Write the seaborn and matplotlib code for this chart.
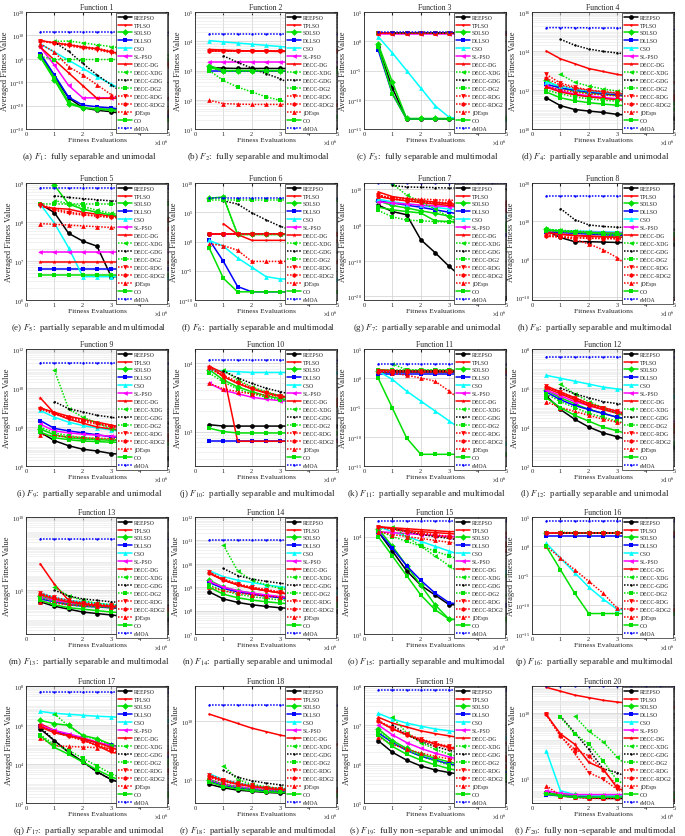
import matplotlib
matplotlib.use("Agg")
import matplotlib.pyplot as plt
import seaborn as sns
import pandas as pd

sns.set_style("white")
plt.rcParams["font.family"] = ["Liberation Serif", "DejaVu Serif"]
plt.rcParams["mathtext.fontset"] = "stix"

fes = [0.5, 1.0, 1.5, 2.0, 2.5, 3.0, 3.5, 4.0, 4.5, 5.0]
algs = ["REEPSO", "TPLSO", "SDLSO", "DLLSO", "CSO", "SL-PSO", "DECC-DG", "DECC-XDG",
        "DECC-GDG", "DECC-DG2", "DECC-RDG", "DECC-RDG2", "jDEsps", "CO", "eMOA"]
colors = ["#000000", "#ff0000", "#00e000", "#0000ff", "#00ffff", "#ff00ff", "#ff0000", "#00e000",
          "#000000", "#00e000", "#ff0000", "#ff0000", "#ff0000", "#00e000", "#0000ff"]
markers = ["o", ".", "D", "s", "^", "<", "*", "<", ".", "s", "v", "h", "^", "s", "."]
solid = [True, True, True, True, True, True, True, False, False, False, False, False, False, True, False]

captions = [
    "(a) $F_1$:  fully separable and unimodal",
    "(b) $F_2$:  fully separable and multimodal",
    "(c) $F_3$:  fully separable and multimodal",
    "(d) $F_4$:  partially separable and unimodal",
    "(e) $F_5$:  partially separable and multimodal",
    "(f) $F_6$:  partially separable and multimodal",
    "(g) $F_7$:  partially separable and unimodal",
    "(h) $F_8$:  partially separable and multimodal",
    "(i) $F_9$:  partially separable and unimodal",
    "(j) $F_{10}$:  partially separable and multimodal",
    "(k) $F_{11}$:  partially separable and multimodal",
    "(l) $F_{12}$:  partially separable and unimodal",
    "(m) $F_{13}$:  partially separable and multimodal",
    "(n) $F_{14}$:  partially separable and unimodal",
    "(o) $F_{15}$:  partially separable and multimodal",
    "(p) $F_{16}$:  partially separable and multimodal",
    "(q) $F_{17}$:  partially separable and unimodal",
    "(r) $F_{18}$:  partially separable and multimodal",
    "(s) $F_{19}$:  fully non -separable and unimodal",
    "(t) $F_{20}$:  fully non -separable and multimodal",
]

# log10 axis limits and tick step per function
ylims = [(-30, 20), (1, 5), (-15, 5), (10, 16), (6, 9), (-10, 10), (-21, 11.8), (-10.7, 20),
         (6, 12), (2.5, 4.2), (-15, 5), (2, 8), (2, 10), (7, 12), (3, 4.2), (-15, 5),
         (2, 8), (3, 13), (5, 8), (3.05, 12.1)]
ysteps = [10, 1, 5, 2, 1, 5, 10, 10, 2, 1, 5, 2, 5, 1, 1, 5, 2, 5, 1, 5]

N = None
# log10 of the averaged fitness value, one row per algorithm (order of algs)
f1 = [
    [2.2, -7.6, -16.7, -20.9, -22.0, -22.6, -23.7, -24.2, -24.6, -25.0],
    [7.8, 6.8, 6.0, 5.0, 4.3, 2.9, 1.8, 0.8, -0.5, -2.0],
    [0.8, -9.0, -19.2, -21.0, -21.3, -21.6, -21.9, -22.2, -22.5, -22.8],
    [2.2, -6.9, -16.4, -19.8, -20.5, -21.0, -21.8, -22.5, -23.0, -23.4],
    [6.4, 2.9, -0.6, -4.1, -7.6, -10.8, -13.9, -16.0, -16.5, -16.7],
    [5.0, -2.7, -11.4, -16.7, -16.7, -16.7, -16.7, -16.7, -16.7, -16.7],
    [5.0, -0.5, -6.0, -11.5, -16.9, -16.9, -16.9, -16.9, -16.9, -16.9],
    [N, 7.4, 7.6, 6.8, 6.0, 5.2, 4.3, 3.4, 2.5, 1.5],
    [N, 7.1, 3.2, -2.0, -6.9, -11.1, -15.3, -19.5, -24.0, -26.0],
    [1.0, -0.3, -0.3, -0.3, -0.3, -0.3, -0.3, -0.3, -0.3, -0.3],
    [7.6, 6.6, 5.5, 4.6, 3.8, 2.6, 1.2, -0.5, -2.0, -3.0],
    [7.7, 6.9, 6.2, 5.2, 4.5, 3.3, 2.0, 0.5, -1.0, -2.0],
    [6.4, 2.9, -3.4, -6.9, -11.1, -15.3, -18.0, -20.0, -21.5, -22.5],
    [1.0, -8.0, -18.5, -21.0, -21.5, -22.0, -23.0, -24.0, -25.5, -26.0],
    [11.6, 11.6, 11.6, 11.6, 11.6, 11.6, 11.6, 11.6, 11.6, 11.6],
]
f2 = [
    [3.11, 3.08, 3.07, 3.07, 3.07, 3.07, 3.07, 3.07, 3.07, 3.07],
    [3.72, 3.70, 3.68, 3.67, 3.66, 3.65, 3.65, 3.64, 3.64, 3.64],
    [3.17, 3.00, 2.98, 2.98, 2.98, 2.98, 2.98, 2.98, 2.98, 2.98],
    [3.00, 3.00, 3.00, 3.00, 3.00, 3.00, 3.00, 3.00, 3.00, 3.00],
    [4.02, 3.98, 3.94, 3.90, 3.86, 3.82, 3.78, 3.75, 3.72, 3.68],
    [3.28, 3.28, 3.28, 3.28, 3.28, 3.28, 3.28, 3.28, 3.28, 3.28],
    [3.66, 3.66, 3.66, 3.66, 3.66, 3.66, 3.66, 3.66, 3.66, 3.66],
    [3.10, 2.98, 2.98, 2.98, 2.98, 2.98, 2.98, 2.98, 2.98, 2.98],
    [N, 3.50, 3.28, 3.08, 2.89, 2.72, 2.47, 2.20, 1.70, 1.05],
    [3.00, 2.66, 2.43, 2.27, 2.10, 1.98, 1.81, 1.64, 1.53, 1.42],
    [3.68, 3.68, 3.68, 3.68, 3.68, 3.68, 3.68, 3.68, 3.68, 3.68],
    [3.67, 3.67, 3.67, 3.67, 3.67, 3.67, 3.67, 3.67, 3.67, 3.67],
    [1.98, 1.87, 1.85, 1.84, 1.84, 1.84, 1.84, 1.84, 1.84, 1.84],
    [3.10, 3.00, 3.00, 3.00, 3.00, 3.00, 3.00, 3.00, 3.00, 3.00],
    [4.24, 4.24, 4.24, 4.24, 4.24, 4.24, 4.24, 4.24, 4.24, 4.24],
]
f3 = [
    [-1.0, -8.0, -13.3, -13.3, -13.3, -13.3, -13.3, -13.3, -13.3, -13.3],
    [1.33, 1.33, 1.33, 1.33, 1.33, 1.33, 1.33, 1.33, 1.33, 1.33],
    [-0.5, -7.0, -13.2, -13.2, -13.2, -13.2, -13.2, -13.2, -13.2, -13.2],
    [-1.5, -9.0, -13.3, -13.3, -13.3, -13.3, -13.3, -13.3, -13.3, -13.3],
    [0.8, -2.0, -5.0, -8.0, -11.0, -13.0, -13.3, -13.3, -13.3, -13.3],
    [1.3, 1.3, 1.3, 1.3, 1.3, 1.3, 1.3, 1.3, 1.3, 1.3],
    [1.33, 1.33, 1.33, 1.33, 1.33, 1.33, 1.33, 1.33, 1.33, 1.33],
    [N, 1.33, 1.33, 1.33, 1.33, 1.33, 1.33, 1.33, 1.33, 1.33],
    [N, 1.33, 1.33, 1.33, 1.33, 1.33, 1.33, 1.33, 1.33, 1.33],
    [1.33, 1.33, 1.33, 1.33, 1.33, 1.33, 1.33, 1.33, 1.33, 1.33],
    [1.33, 1.33, 1.33, 1.33, 1.33, 1.33, 1.33, 1.33, 1.33, 1.33],
    [1.33, 1.33, 1.33, 1.33, 1.33, 1.33, 1.33, 1.33, 1.33, 1.33],
    [1.33, 1.33, 1.33, 1.33, 1.33, 1.33, 1.33, 1.33, 1.33, 1.33],
    [-1.0, -9.0, -13.3, -13.3, -13.3, -13.3, -13.3, -13.3, -13.3, -13.3],
    [1.5, 1.5, 1.5, 1.5, 1.5, 1.5, 1.5, 1.5, 1.5, 1.5],
]
f4 = [
    [11.6, 11.2, 11.0, 10.92, 10.85, 10.75, 10.7, 10.65, 10.6, 10.55],
    [14.0, 13.6, 13.35, 13.1, 12.95, 12.8, 12.7, 12.6, 12.5, 12.4],
    [12.5, 12.1, 11.95, 11.85, 11.78, 11.72, 11.66, 11.6, 11.55, 11.5],
    [12.3, 12.1, 12.0, 11.9, 11.82, 11.76, 11.7, 11.65, 11.6, 11.55],
    [12.4, 12.2, 12.05, 11.95, 11.88, 11.82, 11.78, 11.74, 11.7, 11.66],
    [12.2, 11.95, 11.8, 11.7, 11.62, 11.55, 11.5, 11.45, 11.4, 11.36],
    [12.15, 11.9, 11.75, 11.65, 11.57, 11.5, 11.45, 11.4, 11.37, 11.34],
    [N, 12.8, 12.4, 12.2, 12.05, 11.95, 11.88, 11.8, 11.75, 11.7],
    [N, 14.6, 14.3, 14.1, 13.98, 13.9, 13.82, 13.75, 13.7, 13.6],
    [12.0, 11.8, 11.65, 11.55, 11.48, 11.42, 11.38, 11.34, 11.3, 11.27],
    [12.8, 12.35, 12.15, 12.0, 11.92, 11.85, 11.8, 11.75, 11.72, 11.7],
    [12.6, 12.25, 12.1, 11.98, 11.9, 11.82, 11.77, 11.72, 11.68, 11.65],
    [12.2, 12.0, 11.9, 11.8, 11.75, 11.7, 11.66, 11.62, 11.6, 11.58],
    [11.9, 11.6, 11.45, 11.35, 11.28, 11.22, 11.17, 11.12, 11.08, 11.05],
    [15.2, 15.2, 15.19, 15.19, 15.18, 15.18, 15.17, 15.17, 15.16, 15.15],
]
f5 = [
    [8.46, 8.24, 7.71, 7.51, 7.38, 6.6, 6.6, 6.6, 6.6, 6.6],
    [8.4, 8.35, 8.33, 8.25, 8.2, 8.15, 8.12, 8.1, 8.08, 8.05],
    [N, 8.94, 8.46, 8.33, 8.25, 8.18, 8.13, 8.1, 8.08, 8.07],
    [6.79, 6.79, 6.79, 6.79, 6.79, 6.79, 6.79, 6.79, 6.79, 6.79],
    [8.46, 7.97, 7.34, 6.6, 6.6, 6.6, 6.6, 6.6, 6.6, 6.6],
    [7.22, 7.22, 7.22, 7.22, 7.22, 7.22, 7.22, 7.22, 7.22, 7.22],
    [6.97, 6.97, 6.97, 6.97, 6.97, 6.97, 6.97, 6.97, 6.97, 6.97],
    [N, 8.55, 8.47, 8.4, 8.3, 8.22, 8.17, 8.13, 8.1, 8.08],
    [N, 8.67, 8.63, 8.6, 8.57, 8.54, 8.53, 8.52, 8.52, 8.52],
    [8.46, 8.46, 8.46, 8.46, 8.46, 8.46, 8.46, 8.46, 8.46, 8.46],
    [8.42, 8.3, 8.22, 8.18, 8.15, 8.12, 8.1, 8.08, 8.07, 8.06],
    [8.46, 8.33, 8.26, 8.2, 8.16, 8.12, 8.1, 8.08, 8.07, 8.07],
    [7.96, 7.94, 7.92, 7.9, 7.88, 7.86, 7.85, 7.85, 7.85, 7.85],
    [6.65, 6.65, 6.65, 6.65, 6.65, 6.65, 6.65, 6.65, 6.65, 6.65],
    [8.86, 8.86, 8.86, 8.86, 8.86, 8.86, 8.86, 8.86, 8.86, 8.86],
]
f6 = [
    [1.2, 1.2, 1.2, 1.2, 1.2, 1.2, 1.2, 1.2, 1.2, 1.2],
    [N, 3.05, 1.2, 0.2, 0.2, 0.2, 0.2, 0.2, 0.2, 0.2],
    [7.4, 7.6, 1.2, 1.2, 1.2, 1.2, 1.2, 1.2, 1.2, 1.2],
    [0.3, -3.4, -7.7, -8.6, -8.6, -8.6, -8.6, -8.6, -8.6, -8.6],
    [0.2, -0.8, -2.8, -4.4, -6.0, -6.4, -6.4, -6.4, -6.4, -6.4],
    [1.3, 1.3, 1.3, 1.3, 1.3, 1.3, 1.3, 1.3, 1.3, 1.3],
    [1.25, 1.25, 1.25, 1.25, 1.25, 1.25, 1.25, 1.25, 1.25, 1.25],
    [N, 7.6, 1.2, 1.2, 1.2, 1.2, 1.2, 1.2, 1.2, 1.2],
    [N, 6.95, 6.4, 4.9, 3.7, 2.6, 1.8, 0.8, -0.5, -1.8],
    [7.1, 7.1, 7.1, 7.1, 7.1, 7.1, 7.1, 7.1, 7.1, 7.1],
    [1.25, 1.25, 1.25, 1.25, 1.25, 1.25, 1.25, 1.25, 1.25, 1.25],
    [1.2, 1.2, 1.2, 1.2, 1.2, 1.2, 1.2, 1.2, 1.2, 1.2],
    [-0.4, -0.7, -1.5, -3.4, -3.4, -3.4, -3.4, -3.4, -3.4, -3.4],
    [-1.1, -6.3, -8.6, -8.6, -8.6, -8.6, -8.6, -8.6, -8.6, -8.6],
    [7.36, 7.36, 7.36, 7.36, 7.36, 7.36, 7.36, 7.36, 7.36, 7.36],
]
f7 = [
    [5.6, 3.8, 2.9, -4.1, -7.7, -11.6, -15.0, -18.6, -20.3, -20.5],
    [9.3, 8.0, 7.4, 6.9, 6.4, 6.0, 5.6, 5.2, 4.8, 4.5],
    [6.8, 5.5, 4.8, 4.0, 3.3, 2.5, 1.8, 1.0, 0.0, -1.0],
    [6.8, 6.2, 5.6, 5.0, 4.3, 3.6, 2.8, 1.5, 0.0, -2.7],
    [7.3, 6.5, 6.0, 5.5, 5.0, 4.5, 4.0, 3.5, 3.0, 2.5],
    [6.5, 6.2, 5.9, 5.6, 5.4, 5.2, 5.0, 4.8, 4.6, 4.5],
    [8.0, 7.3, 6.8, 6.3, 5.9, 5.5, 5.1, 4.7, 4.3, 4.0],
    [N, 11.6, 8.4, 6.5, 4.5, 2.3, -0.5, -2.3, -4.5, -6.4],
    [N, 11.1, 10.7, 10.6, 10.5, 10.4, 10.35, 10.3, 10.25, 10.2],
    [4.1, 2.3, 1.4, 1.2, 1.0, 0.8, 0.5, 0.2, 0.0, -0.3],
    [8.5, 7.5, 7.0, 6.7, 6.5, 6.3, 6.1, 6.0, 5.9, 5.8],
    [8.4, 7.3, 6.8, 6.5, 6.2, 6.0, 5.9, 5.8, 5.7, 5.6],
    [8.2, 7.7, 7.5, 7.3, 7.1, 7.0, 6.9, 6.8, 6.8, 6.8],
    [5.0, 4.3, 3.8, 3.4, 1.2, 1.0, 0.8, 0.6, 0.5, 0.4],
    [11.8, 11.8, 11.8, 11.8, 11.8, 11.8, 11.8, 11.8, 11.8, 11.8],
]
f8 = [
    [7.5, 5.7, 4.6, 4.6, 4.5, 4.4, 4.3, 4.2, 4.1, 4.0],
    [7.0, 6.5, 6.2, 6.0, 5.9, 5.8, 5.7, 5.6, 5.5, 5.4],
    [7.8, 7.4, 7.2, 7.0, 6.8, 6.6, 6.4, 6.2, 6.0, 5.8],
    [7.2, 7.0, 6.8, 6.6, 6.4, 6.3, 6.2, 6.1, 6.0, 5.9],
    [7.6, 7.5, 7.4, 7.3, 7.2, 7.1, 7.0, 6.9, 6.8, 6.7],
    [7.4, 7.3, 7.2, 7.1, 7.0, 6.95, 6.9, 6.85, 6.8, 6.75],
    [7.0, 6.6, 6.3, 6.1, 5.9, 5.8, 5.7, 5.6, 5.5, 5.5],
    [7.9, 7.6, 7.4, 7.2, 6.5, 6.0, 5.5, 5.2, 5.0, 4.8],
    [N, 13.3, 10.4, 9.0, 8.6, 8.4, 8.3, 8.2, 8.1, 8.0],
    [7.5, 7.2, 7.0, 6.8, 6.6, 6.5, 6.4, 6.3, 6.2, 6.1],
    [6.2, 5.9, 5.7, 5.6, 5.5, 5.45, 5.4, 5.35, 5.3, 5.25],
    [6.0, 5.8, 5.6, 5.5, 5.4, 5.35, 5.3, 5.25, 5.2, 5.2],
    [6.5, 6.0, 5.2, 4.0, 2.5, 0.4, -2.6, -7.4, -10.0, -10.6],
    [7.6, 7.4, 7.2, 7.0, 6.9, 6.8, 6.7, 6.6, 6.5, 6.5],
    [16.7, 16.7, 16.7, 16.7, 16.7, 16.7, 16.7, 16.7, 16.7, 16.7],
]
f9 = [
    [7.73, 7.3, 7.04, 6.86, 6.77, 6.64, 6.58, 6.53, 6.47, 6.4],
    [8.97, 8.75, 8.55, 8.4, 8.25, 8.1, 7.95, 7.8, 7.7, 7.6],
    [7.9, 7.6, 7.45, 7.38, 7.35, 7.32, 7.3, 7.29, 7.28, 7.27],
    [8.33, 7.93, 7.8, 7.7, 7.6, 7.5, 7.45, 7.42, 7.4, 7.38],
    [8.85, 8.5, 8.25, 8.08, 7.95, 7.85, 7.75, 7.65, 7.55, 7.47],
    [8.15, 7.8, 7.7, 7.63, 7.58, 7.53, 7.5, 7.47, 7.45, 7.43],
    [9.5, 8.7, 8.4, 8.2, 8.0, 7.9, 7.8, 7.72, 7.65, 7.6],
    [N, 10.9, 8.94, 8.5, 8.2, 7.9, 7.75, 7.6, 7.55, 7.5],
    [N, 9.3, 8.94, 8.77, 8.6, 8.5, 8.4, 8.33, 8.27, 8.2],
    [8.0, 7.7, 7.55, 7.45, 7.4, 7.35, 7.3, 7.28, 7.26, 7.25],
    [8.93, 8.65, 8.45, 8.28, 8.15, 8.0, 7.88, 7.75, 7.65, 7.56],
    [9.0, 8.7, 8.5, 8.35, 8.2, 8.05, 7.92, 7.8, 7.7, 7.6],
    [7.6, 7.55, 7.5, 7.45, 7.42, 7.4, 7.38, 7.36, 7.35, 7.35],
    [7.75, 7.45, 7.35, 7.28, 7.25, 7.22, 7.2, 7.18, 7.16, 7.15],
    [11.3, 11.3, 11.3, 11.3, 11.3, 11.3, 11.3, 11.3, 11.3, 11.3],
]
f10 = [
    [3.1, 3.08, 3.08, 3.08, 3.08, 3.08, 3.08, 3.08, 3.08, 3.08],
    [3.95, 3.8, 3.7, 3.62, 3.56, 3.52, 3.48, 3.45, 3.42, 3.4],
    [3.9, 3.75, 3.65, 3.58, 3.52, 3.48, 3.45, 3.42, 3.4, 3.38],
    [2.86, 2.86, 2.86, 2.86, 2.86, 2.86, 2.86, 2.86, 2.86, 2.86],
    [3.9, 3.88, 3.87, 3.86, 3.86, 3.86, 3.86, 3.86, 3.86, 3.86],
    [3.7, 3.6, 3.55, 3.5, 3.47, 3.45, 3.43, 3.42, 3.41, 3.4],
    [3.95, 3.85, 2.86, 2.86, 2.86, 2.86, 2.86, 2.86, 2.86, 2.86],
    [N, 3.9, 3.75, 3.65, 3.58, 3.52, 3.48, 3.45, 3.43, 3.41],
    [N, 3.88, 3.78, 3.7, 3.63, 3.58, 3.53, 3.5, 3.47, 3.45],
    [3.85, 3.72, 3.62, 3.55, 3.5, 3.46, 3.43, 3.41, 3.39, 3.37],
    [3.92, 3.8, 3.7, 3.62, 3.56, 3.51, 3.47, 3.44, 3.41, 3.39],
    [3.93, 3.82, 3.72, 3.64, 3.57, 3.52, 3.48, 3.45, 3.42, 3.4],
    [3.7, 3.62, 3.58, 3.55, 3.53, 3.51, 3.5, 3.49, 3.48, 3.47],
    [3.05, 3.0, 2.98, 2.98, 2.98, 2.98, 2.98, 2.98, 2.98, 2.98],
    [4.04, 4.04, 4.04, 4.04, 4.04, 4.04, 4.04, 4.04, 4.04, 4.04],
]
f11 = [
    [1.0, 1.0, 1.0, 1.0, 1.0, 1.0, 1.0, 1.0, 1.0, 1.0],
    [1.5, 1.3, 1.2, 1.2, 1.2, 1.2, 1.2, 1.2, 1.2, 1.2],
    [1.2, 1.2, 1.2, 1.2, 1.2, 1.2, 1.2, 1.2, 1.2, 1.2],
    [0.8, 0.8, 0.8, 0.8, 0.8, 0.8, 0.8, 0.8, 0.8, 0.8],
    [1.2, -0.2, -2.2, -3.9, -5.6, -7.3, -9.0, -10.2, -11.0, -11.0],
    [1.3, 1.3, 1.3, 1.3, 1.3, 1.3, 1.3, 1.3, 1.3, 1.3],
    [1.4, 1.3, 1.3, 1.3, 1.3, 1.3, 1.3, 1.3, 1.3, 1.3],
    [N, 2.5, 1.4, 1.4, 1.4, 1.4, 1.4, 1.4, 1.4, 1.4],
    [N, 1.3, 1.3, 1.3, 1.3, 1.3, 1.3, 1.3, 1.3, 1.3],
    [1.35, 1.35, 1.35, 1.35, 1.35, 1.35, 1.35, 1.35, 1.35, 1.35],
    [1.25, 1.25, 1.25, 1.25, 1.25, 1.25, 1.25, 1.25, 1.25, 1.25],
    [1.1, 1.1, 1.1, 1.1, 1.1, 1.1, 1.1, 1.1, 1.1, 1.1],
    [1.4, 0.9, 0.5, 0.05, -0.5, -2.2, -4.1, -7.0, -12.4, -13.0],
    [0.0, -5.1, -10.2, -13.0, -13.0, -13.0, -13.0, -13.0, -13.0, -13.0],
    [2.5, 2.5, 2.5, 2.5, 2.5, 2.5, 2.5, 2.5, 2.5, 2.5],
]
f12 = [
    [5.6, 4.9, 4.4, 4.0, 3.7, 3.5, 3.3, 3.2, 3.1, 3.0],
    [6.1, 5.8, 5.5, 5.2, 5.0, 4.8, 4.6, 4.4, 4.2, 4.0],
    [5.9, 5.5, 5.2, 4.9, 4.7, 4.5, 4.3, 4.1, 4.0, 3.9],
    [5.8, 5.4, 5.1, 4.9, 4.7, 4.5, 4.4, 4.3, 4.2, 4.1],
    [6.65, 6.5, 6.35, 6.2, 6.05, 5.95, 5.85, 5.75, 5.65, 5.6],
    [5.9, 5.6, 5.3, 5.1, 4.9, 4.75, 4.6, 4.5, 4.4, 4.3],
    [6.0, 5.7, 5.4, 5.1, 4.9, 4.7, 4.5, 4.3, 4.1, 3.9],
    [N, 6.2, 5.7, 5.3, 5.0, 4.7, 4.5, 4.3, 4.1, 4.0],
    [N, 6.0, 5.7, 5.5, 5.3, 5.2, 5.1, 5.0, 4.95, 4.9],
    [5.7, 5.3, 5.0, 4.7, 4.5, 4.3, 4.1, 4.0, 3.9, 3.8],
    [6.1, 5.8, 5.5, 5.2, 5.0, 4.8, 4.6, 4.4, 4.2, 4.1],
    [6.05, 5.75, 5.45, 5.15, 4.95, 4.75, 4.55, 4.35, 4.2, 4.05],
    [5.3, 5.0, 4.8, 4.6, 4.4, 4.25, 4.1, 4.0, 3.9, 3.8],
    [5.5, 5.0, 4.6, 4.3, 4.0, 3.8, 3.6, 3.45, 3.3, 3.2],
    [7.6, 7.6, 7.6, 7.6, 7.6, 7.6, 7.6, 7.6, 7.6, 7.6],
]
f13 = [
    [4.2, 3.9, 3.7, 3.5, 3.4, 3.3, 3.2, 3.1, 3.05, 3.0],
    [6.8, 5.4, 4.3, 4.1, 3.9, 3.8, 3.7, 3.6, 3.55, 3.5],
    [4.6, 4.3, 4.1, 4.0, 3.9, 3.85, 3.8, 3.75, 3.7, 3.7],
    [4.4, 4.2, 4.0, 3.9, 3.85, 3.8, 3.75, 3.7, 3.7, 3.65],
    [4.8, 4.5, 4.3, 4.2, 4.1, 4.0, 3.95, 3.9, 3.85, 3.8],
    [4.5, 4.3, 4.15, 4.05, 3.95, 3.9, 3.85, 3.8, 3.75, 3.7],
    [4.7, 4.4, 4.2, 4.05, 3.95, 3.9, 3.85, 3.8, 3.75, 3.7],
    [N, 5.2, 4.6, 4.3, 4.1, 4.0, 3.9, 3.85, 3.8, 3.75],
    [N, 5.0, 4.6, 4.4, 4.3, 4.2, 4.15, 4.1, 4.05, 4.0],
    [4.5, 4.2, 4.0, 3.9, 3.85, 3.8, 3.75, 3.7, 3.65, 3.6],
    [4.8, 4.5, 4.3, 4.15, 4.05, 3.95, 3.9, 3.85, 3.8, 3.75],
    [4.75, 4.45, 4.25, 4.1, 4.0, 3.9, 3.85, 3.8, 3.75, 3.7],
    [4.2, 4.1, 4.0, 3.95, 3.9, 3.85, 3.8, 3.75, 3.7, 3.7],
    [4.3, 4.0, 3.8, 3.7, 3.6, 3.5, 3.45, 3.4, 3.35, 3.3],
    [8.5, 8.5, 8.5, 8.5, 8.5, 8.5, 8.5, 8.5, 8.5, 8.5],
]
f14 = [
    [8.8, 8.5, 8.35, 8.25, 8.18, 8.12, 8.08, 8.05, 8.02, 8.0],
    [9.6, 9.3, 9.1, 8.95, 8.85, 8.75, 8.68, 8.6, 8.55, 8.5],
    [9.3, 9.0, 8.85, 8.75, 8.65, 8.58, 8.52, 8.47, 8.43, 8.4],
    [9.2, 8.95, 8.8, 8.7, 8.62, 8.55, 8.5, 8.46, 8.42, 8.4],
    [9.7, 9.45, 9.3, 9.2, 9.1, 9.02, 8.95, 8.9, 8.85, 8.8],
    [9.25, 9.0, 8.85, 8.75, 8.67, 8.6, 8.55, 8.5, 8.47, 8.45],
    [9.6, 9.3, 9.1, 8.95, 8.85, 8.76, 8.68, 8.62, 8.56, 8.5],
    [N, 10.8, 9.7, 9.3, 9.1, 8.95, 8.85, 8.75, 8.68, 8.6],
    [N, 9.8, 9.5, 9.35, 9.25, 9.17, 9.1, 9.05, 9.0, 8.95],
    [9.1, 8.85, 8.7, 8.6, 8.52, 8.46, 8.42, 8.38, 8.35, 8.33],
    [9.65, 9.35, 9.15, 9.0, 8.9, 8.8, 8.72, 8.65, 8.58, 8.52],
    [9.62, 9.32, 9.12, 8.98, 8.88, 8.78, 8.7, 8.63, 8.57, 8.5],
    [9.0, 8.85, 8.75, 8.68, 8.62, 8.58, 8.55, 8.52, 8.5, 8.48],
    [9.0, 8.7, 8.55, 8.45, 8.38, 8.32, 8.28, 8.24, 8.2, 8.18],
    [11.0, 11.0, 11.0, 11.0, 11.0, 11.0, 11.0, 11.0, 11.0, 11.0],
]
f15 = [
    [4.05, 3.85, 3.65, 3.5, 3.4, 3.3, 3.3, 3.3, 3.3, 3.3],
    [4.1, 4.08, 4.06, 4.05, 4.04, 4.03, 4.02, 4.02, 4.01, 4.0],
    [4.08, 3.9, 3.7, 3.5, 3.3, 3.15, 3.15, 3.15, 3.15, 3.15],
    [4.05, 3.88, 3.7, 3.55, 3.42, 3.32, 3.3, 3.3, 3.3, 3.3],
    [4.1, 4.05, 4.0, 3.95, 3.9, 3.85, 3.8, 3.75, 3.7, 3.65],
    [4.05, 4.04, 4.03, 4.02, 4.01, 4.0, 4.0, 4.0, 4.0, 4.0],
    [4.1, 4.09, 4.08, 4.07, 4.06, 4.05, 4.05, 4.04, 4.04, 4.04],
    [N, 4.1, 4.0, 3.9, 3.8, 3.7, 3.6, 3.5, 3.45, 3.4],
    [N, 4.08, 4.05, 4.02, 4.0, 3.98, 3.96, 3.94, 3.92, 3.9],
    [4.06, 4.0, 3.95, 3.9, 3.85, 3.8, 3.75, 3.7, 3.65, 3.6],
    [4.1, 4.08, 4.06, 4.04, 4.02, 4.0, 3.98, 3.96, 3.94, 3.92],
    [4.1, 4.07, 4.05, 4.03, 4.01, 3.99, 3.97, 3.95, 3.93, 3.91],
    [4.05, 4.02, 4.0, 3.98, 3.96, 3.94, 3.92, 3.9, 3.88, 3.86],
    [4.0, 3.8, 3.6, 3.4, 3.25, 3.15, 3.15, 3.15, 3.15, 3.15],
    [4.16, 4.16, 4.16, 4.16, 4.16, 4.16, 4.16, 4.16, 4.16, 4.16],
]
f16 = [
    [2.2, 2.2, 2.2, 2.2, 2.2, 2.2, 2.2, 2.2, 2.2, 2.2],
    [2.3, 2.3, 2.3, 2.3, 2.3, 2.3, 2.3, 2.3, 2.3, 2.3],
    [2.2, 2.2, 2.2, 2.2, 2.2, 2.2, 2.2, 2.2, 2.2, 2.2],
    [1.8, 1.8, 1.8, 1.8, 1.8, 1.8, 1.8, 1.8, 1.8, 1.8],
    [0.5, -2.0, -4.5, -7.0, -9.0, -10.8, -11.0, -11.0, -11.0, -11.0],
    [2.25, 2.25, 2.25, 2.25, 2.25, 2.25, 2.25, 2.25, 2.25, 2.25],
    [2.3, 2.3, 2.3, 2.3, 2.3, 2.3, 2.3, 2.3, 2.3, 2.3],
    [N, 2.4, 2.3, 2.3, 2.3, 2.3, 2.3, 2.3, 2.3, 2.3],
    [N, 2.3, 2.3, 2.3, 2.3, 2.3, 2.3, 2.3, 2.3, 2.3],
    [2.2, 2.2, 2.2, 2.2, 2.2, 2.2, 2.2, 2.2, 2.2, 2.2],
    [2.3, 2.3, 2.3, 2.3, 2.3, 2.3, 2.3, 2.3, 2.3, 2.3],
    [2.25, 2.25, 2.25, 2.25, 2.25, 2.25, 2.25, 2.25, 2.25, 2.25],
    [0.0, -2.0, -4.0, -6.0, -8.0, -10.6, -10.8, -10.8, -10.8, -10.8],
    [0.0, -4.0, -8.0, -11.5, -11.5, -11.5, -11.5, -11.5, -11.5, -11.5],
    [4.3, 4.3, 4.3, 4.3, 4.3, 4.3, 4.3, 4.3, 4.3, 4.3],
]
f17 = [
    [5.8, 5.2, 4.6, 4.12, 3.6, 3.2, 2.95, 2.75, 2.6, 2.43],
    [6.07, 5.72, 5.5, 5.25, 4.95, 4.6, 4.5, 4.45, 4.4, 4.35],
    [6.24, 6.07, 5.98, 5.46, 5.3, 5.0, 4.75, 4.55, 4.35, 4.16],
    [5.95, 5.7, 5.5, 5.3, 5.1, 4.95, 4.8, 4.65, 4.5, 4.4],
    [6.7, 6.6, 6.55, 6.5, 6.45, 6.42, 6.38, 6.35, 6.3, 6.27],
    [5.98, 5.72, 5.55, 5.35, 5.12, 4.95, 4.8, 4.7, 4.6, 4.5],
    [5.9, 5.6, 5.45, 5.3, 5.1, 4.85, 4.6, 4.4, 4.2, 4.0],
    [N, 6.58, 5.94, 5.45, 5.25, 5.0, 4.75, 4.5, 4.3, 4.0],
    [5.9, 5.2, 4.6, 4.1, 3.6, 3.2, 3.0, 2.8, 2.6, 2.45],
    [5.5, 5.0, 4.7, 4.3, 3.9, 3.5, 3.2, 2.9, 2.7, 2.5],
    [5.95, 5.65, 5.45, 5.25, 5.0, 4.75, 4.5, 4.2, 3.9, 3.63],
    [5.95, 5.62, 5.42, 5.2, 4.95, 4.7, 4.45, 4.2, 3.95, 3.7],
    [5.34, 4.94, 4.9, 4.87, 4.84, 4.8, 4.75, 4.7, 4.65, 4.6],
    [5.46, 4.85, 4.5, 4.1, 3.7, 3.35, 3.05, 2.8, 2.55, 2.35],
    [7.7, 7.7, 7.7, 7.7, 7.7, 7.7, 7.7, 7.7, 7.7, 7.7],
]
f18 = [
    [4.6, 4.3, 4.1, 4.0, 3.9, 3.85, 3.8, 3.75, 3.7, 3.7],
    [10.6, 10.2, 9.8, 9.4, 9.1, 8.8, 8.6, 8.4, 8.2, 8.0],
    [5.0, 4.6, 4.4, 4.2, 4.1, 4.0, 3.95, 3.9, 3.85, 3.8],
    [4.9, 4.5, 4.3, 4.15, 4.05, 4.0, 3.95, 3.9, 3.85, 3.8],
    [5.5, 5.0, 4.7, 4.5, 4.35, 4.25, 4.15, 4.1, 4.05, 4.0],
    [5.0, 4.6, 4.4, 4.25, 4.15, 4.1, 4.05, 4.0, 3.95, 3.9],
    [5.3, 4.9, 4.6, 4.4, 4.25, 4.15, 4.05, 4.0, 3.95, 3.9],
    [N, 6.2, 5.0, 4.6, 4.4, 4.25, 4.15, 4.05, 4.0, 3.95],
    [N, 5.8, 5.2, 4.9, 4.7, 4.55, 4.45, 4.35, 4.3, 4.25],
    [5.0, 4.6, 4.35, 4.2, 4.1, 4.0, 3.95, 3.9, 3.85, 3.8],
    [5.4, 5.0, 4.7, 4.5, 4.3, 4.2, 4.1, 4.05, 4.0, 3.95],
    [5.35, 4.95, 4.65, 4.45, 4.3, 4.2, 4.1, 4.05, 4.0, 3.95],
    [5.2, 4.8, 4.6, 4.45, 4.35, 4.25, 4.2, 4.15, 4.1, 4.05],
    [4.8, 4.4, 4.2, 4.05, 3.95, 3.9, 3.85, 3.8, 3.75, 3.7],
    [11.4, 11.4, 11.4, 11.4, 11.4, 11.4, 11.4, 11.4, 11.4, 11.4],
]
f19 = [
    [6.6, 6.3, 6.1, 5.95, 5.85, 5.78, 5.72, 5.67, 5.63, 5.6],
    [7.2, 7.05, 6.95, 6.85, 6.78, 6.72, 6.66, 6.61, 6.57, 6.53],
    [6.9, 6.6, 6.4, 6.25, 6.15, 6.05, 5.98, 5.92, 5.87, 5.82],
    [6.8, 6.55, 6.35, 6.2, 6.1, 6.0, 5.93, 5.87, 5.82, 5.78],
    [7.3, 7.15, 7.05, 6.97, 6.9, 6.85, 6.8, 6.76, 6.72, 6.68],
    [7.0, 6.75, 6.55, 6.4, 6.28, 6.18, 6.1, 6.03, 5.97, 5.92],
    [7.1, 6.9, 6.75, 6.62, 6.52, 6.43, 6.35, 6.28, 6.22, 6.16],
    [N, 7.2, 6.8, 6.55, 6.38, 6.25, 6.15, 6.07, 6.0, 5.94],
    [N, 7.0, 6.75, 6.58, 6.45, 6.35, 6.27, 6.2, 6.14, 6.08],
    [6.85, 6.55, 6.35, 6.2, 6.08, 5.98, 5.9, 5.83, 5.77, 5.72],
    [7.12, 6.92, 6.77, 6.64, 6.54, 6.45, 6.37, 6.3, 6.24, 6.18],
    [7.1, 6.9, 6.74, 6.61, 6.5, 6.41, 6.33, 6.26, 6.2, 6.14],
    [6.7, 6.5, 6.38, 6.28, 6.2, 6.13, 6.07, 6.02, 5.98, 5.94],
    [6.75, 6.45, 6.25, 6.1, 5.98, 5.88, 5.8, 5.73, 5.67, 5.62],
    [7.9, 7.9, 7.9, 7.9, 7.9, 7.9, 7.9, 7.9, 7.9, 7.9],
]
f20 = [
    [3.9, 3.6, 3.5, 3.45, 3.4, 3.4, 3.38, 3.37, 3.36, 3.35],
    [12.0, 11.7, 11.4, 11.2, 11.0, 10.86, 10.75, 10.65, 10.55, 10.47],
    [3.8, 3.7, 3.65, 3.6, 3.6, 3.6, 3.6, 3.6, 3.6, 3.6],
    [3.7, 3.6, 3.55, 3.5, 3.5, 3.5, 3.5, 3.5, 3.5, 3.5],
    [7.1, 4.0, 3.7, 3.65, 3.6, 3.6, 3.6, 3.6, 3.6, 3.6],
    [4.0, 3.8, 3.7, 3.7, 3.7, 3.7, 3.7, 3.7, 3.7, 3.7],
    [9.9, 8.4, 7.6, 6.2, 5.7, 4.2, 3.8, 3.7, 3.6, 3.6],
    [N, N, 9.77, 8.6, 7.8, 6.6, 5.6, 4.9, 4.3, 3.8],
    [N, 9.77, 8.5, 7.2, 5.7, 5.4, 4.9, 4.0, 3.8, 3.6],
    [N, 9.7, 8.4, 7.6, 6.3, 4.8, 4.2, 3.9, 3.8, 3.7],
    [9.9, 8.3, 6.9, 5.4, 4.9, 4.1, 3.7, 3.6, 3.55, 3.5],
    [9.9, 8.2, 7.2, 6.7, 5.6, 4.4, 3.9, 3.7, 3.6, 3.6],
    [4.4, 3.6, 3.5, 3.4, 3.4, 3.4, 3.4, 3.4, 3.4, 3.4],
    [3.75, 3.6, 3.5, 3.5, 3.5, 3.5, 3.5, 3.5, 3.5, 3.5],
    [12.1, 12.1, 12.1, 12.1, 12.1, 12.1, 12.1, 12.1, 12.1, 12.1],
]
funcs = [f1, f2, f3, f4, f5, f6, f7, f8, f9, f10,
         f11, f12, f13, f14, f15, f16, f17, f18, f19, f20]

palette = dict(zip(algs, colors))
marker_map = dict(zip(algs, markers))
dash_map = {a: ("" if s else (1, 1)) for a, s in zip(algs, solid)}

W, H = 685, 837
fig = plt.figure(figsize=(W / 100, H / 100), dpi=100)
lefts = [26, 195, 364, 532]
tops = [13, 184, 350, 518, 687]
aw, ah = 142, 117

for k, data in enumerate(funcs):
    r, c = divmod(k, 4)
    ax = fig.add_axes([lefts[c] / W, 1 - (tops[r] + ah) / H, aw / W, ah / H])
    rows = []
    for alg, vals in zip(algs, data):
        for x, v in zip(fes, vals):
            if v is not None:
                rows.append((x, 10.0 ** v, alg))
    df = pd.DataFrame(rows, columns=["FEs", "fit", "alg"])
    ax.set_yscale("log")
    sns.lineplot(data=df, x="FEs", y="fit", hue="alg", style="alg",
                 hue_order=algs, style_order=algs, palette=palette,
                 markers=marker_map, dashes=dash_map, lw=1.1, markersize=3.4,
                 markeredgewidth=0, errorbar=None, ax=ax)
    lo, hi = ylims[k]
    ax.set_ylim(10.0 ** lo, 10.0 ** hi)
    ax.set_xlim(0, 5)
    step = ysteps[k]
    first = int(-(-lo // step) * step)
    ax.set_yticks([10.0 ** e for e in range(first, int(hi) + 1, step)])
    ax.set_xticks([0, 1, 2, 3, 4, 5])
    ax.grid(True, which="major", color="#cfcfcf", lw=0.5)
    ax.grid(True, which="minor", color="#e6e6e6", lw=0.4)
    ax.tick_params(which="both", direction="in", top=True, right=True,
                   labelsize=4.6, length=2, pad=1.2)
    ax.tick_params(which="minor", length=1)
    for s in ax.spines.values():
        s.set_linewidth(0.6)
        s.set_color("#222222")
    ax.set_xlabel("Fitness Evaluations", fontsize=5.4, labelpad=1)
    ax.set_ylabel("Averaged Fitness Value", fontsize=6.0, labelpad=0.3)
    ax.set_title(f"Function {k + 1}", fontsize=5.6, pad=2)
    ax.text(1.0, -0.075, r"$\times10^6$", transform=ax.transAxes,
            ha="right", va="top", fontsize=4.5)
    handles, labels = ax.get_legend_handles_labels()
    leg = ax.legend(handles, labels, loc="upper right", fontsize=4.1, frameon=True,
                    fancybox=False, framealpha=1, edgecolor="#222222",
                    borderpad=0.3, labelspacing=0.52, handlelength=2.5,
                    handletextpad=0.3, borderaxespad=0.15)
    leg.get_frame().set_linewidth(0.5)
    fig.text((lefts[c] + aw / 2 - 8) / W, 1 - (tops[r] + ah + 27) / H, captions[k],
             ha="center", va="center", fontsize=6.5)

fig.savefig("out.png", dpi=100)
